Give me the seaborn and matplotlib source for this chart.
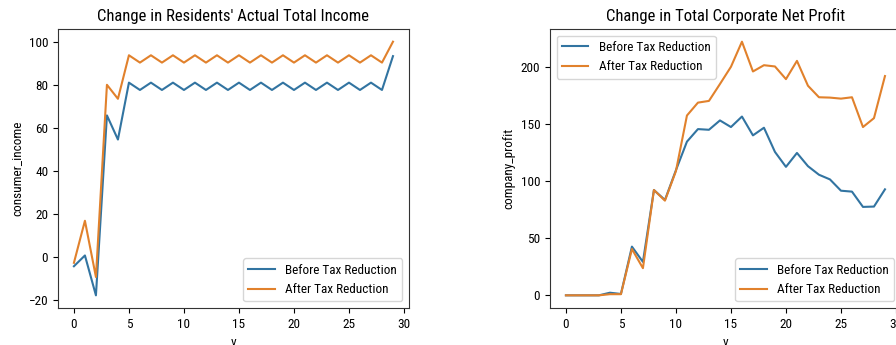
import matplotlib
matplotlib.use("Agg")
import matplotlib.pyplot as plt
from matplotlib import font_manager
import seaborn as sns

# Period index
periods = list(range(30))

# Residents' actual total income
income_before = [-4.2, 0.8, -17.7, 65.8, 54.6,
                 81.0, 77.6, 81.0, 77.6, 81.0, 77.6, 81.0, 77.6, 81.0, 77.6,
                 81.0, 77.6, 81.0, 77.6, 81.0, 77.6, 81.0, 77.6, 81.0, 77.6,
                 81.0, 77.6, 81.0, 77.6, 93.3]
income_after = [-2.6, 16.9, -9.2, 80.0, 73.5,
                93.7, 90.3, 93.7, 90.3, 93.7, 90.3, 93.7, 90.3, 93.7, 90.3,
                93.7, 90.3, 93.7, 90.3, 93.7, 90.3, 93.7, 90.3, 93.7, 90.3,
                93.7, 90.3, 93.7, 90.3, 100.0]

# Total corporate net profit
profit_before = [0.0, 0.0, 0.0, 0.0, 2.3, 1.2, 42.7, 29.3, 92.3, 83.6,
                 109.7, 134.7, 145.7, 145.1, 153.3, 147.5, 156.7, 140.2, 146.9, 125.7,
                 112.6, 124.8, 113.2, 105.7, 101.6, 91.7, 90.9, 77.5, 77.8, 92.9]
profit_after = [0.0, 0.0, 0.0, 0.0, 1.0, 1.0, 40.6, 23.8, 92.3, 83.0,
                108.9, 157.6, 168.9, 170.4, 185.2, 200.3, 222.3, 196.2, 201.7, 200.6,
                189.5, 205.5, 183.7, 173.6, 173.3, 172.4, 173.6, 147.5, 155.3, 192.2]

series_labels = ["Before Tax Reduction", "After Tax Reduction"]
line_colors = ["#3274a1", "#e1812c"]

installed = {f.name for f in font_manager.fontManager.ttflist}
families = [f for f in ["Roboto Condensed", "Liberation Sans Narrow", "Roboto"] if f in installed]
plt.rcParams["font.family"] = families + ["DejaVu Sans"]
plt.rcParams["font.size"] = 9.5
plt.rcParams["axes.titlesize"] = 12
plt.rcParams["axes.edgecolor"] = "#333333"

fig = plt.figure(figsize=(8.96, 3.45), dpi=100)
ax1 = fig.add_axes([0.0647, 0.1072, 0.3917, 0.8087])
ax2 = fig.add_axes([0.6138, 0.1072, 0.3917, 0.8087])

sns.lineplot(x=periods, y=income_before, ax=ax1, color=line_colors[0], label=series_labels[0])
sns.lineplot(x=periods, y=income_after, ax=ax1, color=line_colors[1], label=series_labels[1])
ax1.set_title("Change in Residents' Actual Total Income")
ax1.set_xlabel("v")
ax1.set_ylabel("consumer_income")
ax1.legend(loc="lower right")

sns.lineplot(x=periods, y=profit_before, ax=ax2, color=line_colors[0], label=series_labels[0])
sns.lineplot(x=periods, y=profit_after, ax=ax2, color=line_colors[1], label=series_labels[1])
ax2.set_title("Change in Total Corporate Net Profit")
ax2.set_xlabel("v")
ax2.set_ylabel("company_profit")
first_legend = ax2.legend(loc="upper left")
ax2.add_artist(first_legend)
ax2.legend(loc="lower right")

for ax in (ax1, ax2):
    ax.set_xticks([0, 5, 10, 15, 20, 25, 30])
    for side in ("top", "right", "left", "bottom"):
        ax.spines[side].set_visible(True)

fig.savefig("out.png", dpi=100)
